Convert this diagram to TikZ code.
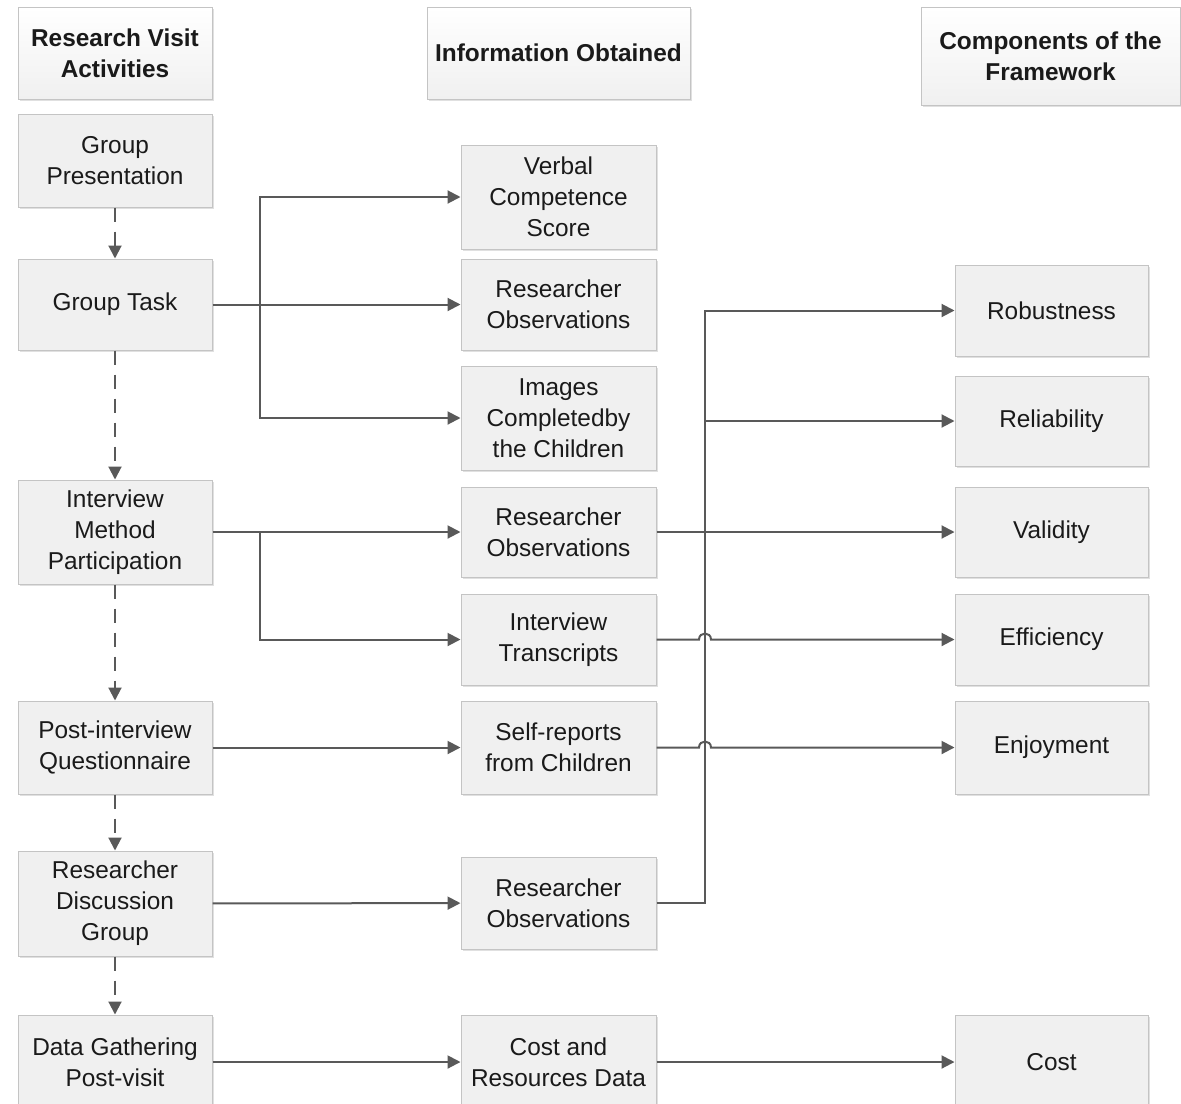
\documentclass[tikz,border=0pt]{standalone}
\usepackage{fontspec}
\setmainfont{Liberation Sans}
\usetikzlibrary{arrows.meta, shadows}
\definecolor{boxFill}{HTML}{F0F0F0}
\definecolor{boxLine}{HTML}{C4C4C4}
\definecolor{wireGray}{HTML}{595959}
\definecolor{inkBlack}{HTML}{1A1A1A}

\begin{document}
\begin{tikzpicture}[x=0.5pt, y=-0.5pt,
    every node/.style={font=\fontsize{12.2}{15.5}\selectfont, text=inkBlack},
    card/.style={draw=boxLine, fill=boxFill, line width=0.5pt, align=center,
                 inner sep=0pt, drop shadow={shadow xshift=0.8pt,
                 shadow yshift=-0.8pt, fill=black, opacity=0.12}},
    stage/.style={card, minimum width=97pt},
    info/.style={card, minimum width=97.5pt},
    comp/.style={card, minimum width=96.5pt},
    head/.style={card, top color=white, bottom color=boxFill,
                 font=\fontsize{12.2}{15.5}\selectfont\bfseries},
    flow/.style={draw=wireGray, line width=1pt, dash pattern=on 7pt off 5pt,
                 -{Triangle[length=6.5pt, width=6.5pt]}},
    link/.style={draw=wireGray, line width=1pt,
                 -{Triangle[length=6.5pt, width=6.5pt]}},
  ]
  \useasboundingbox (0,0) rectangle (1181,1103);
  \clip (0,0) rectangle (1181,1103);

  \node[head, minimum width=97pt, minimum height=46pt]    (hAct)  at (115,53)    {Research Visit\\Activities};
  \node[head, minimum width=131.5pt, minimum height=46pt] (hInfo) at (558.5,53)  {Information Obtained};
  \node[head, minimum width=129.5pt, minimum height=49pt] (hComp) at (1050.5,56) {Components of the\\Framework};

  \node[stage, minimum height=46.5pt] (pres)  at (115,160.5) {Group\\Presentation};
  \node[stage, minimum height=45.5pt] (task)  at (115,304.5) {Group Task};
  \node[stage, minimum height=52pt]   (intv)  at (115,532)   {Interview\\Method\\Participation};
  \node[stage, minimum height=46.5pt] (quest) at (115,747.5) {Post-interview\\Questionnaire};
  \node[stage, minimum height=52.5pt] (disc)  at (115,903.5) {Researcher\\Discussion\\Group};
  \node[stage, minimum height=47pt]   (gath)  at (115,1062)  {Data Gathering\\Post-visit};

  \node[info, minimum height=52pt]   (verbal)   at (558.5,197)   {Verbal\\Competence\\Score};
  \node[info, minimum height=45.5pt] (obsA)     at (558.5,304.5) {Researcher\\Observations};
  \node[info, minimum height=52pt]   (images)   at (558.5,418)   {Images\\Completedby\\the Children};
  \node[info, minimum height=45pt]   (obsB)     at (558.5,532)   {Researcher\\Observations};
  \node[info, minimum height=45.5pt] (trans)    at (558.5,639.5) {Interview\\Transcripts};
  \node[info, minimum height=46.5pt] (self)     at (558.5,747.5) {Self-reports\\from Children};
  \node[info, minimum height=46pt]   (obsC)     at (558.5,903)   {Researcher\\Observations};
  \node[info, minimum height=47pt]   (costData) at (558.5,1062)  {Cost and\\Resources Data};

  \node[comp, minimum height=45.5pt] (robust) at (1051.5,310.5) {Robustness};
  \node[comp, minimum height=45pt]   (reliab) at (1051.5,421)   {Reliability};
  \node[comp, minimum height=45pt]   (valid)  at (1051.5,532)   {Validity};
  \node[comp, minimum height=45.5pt] (effic)  at (1051.5,639.5) {Efficiency};
  \node[comp, minimum height=46.5pt] (enjoy)  at (1051.5,747.5) {Enjoyment};
  \node[comp, minimum height=47pt]   (cost)   at (1051.5,1062)  {Cost};

  \draw[flow] (pres) -- (task);
  \draw[flow] (task) -- (intv);
  \draw[flow] (intv) -- (quest);
  \draw[flow] (quest) -- (disc);
  \draw[flow] (disc) -- (gath);

  \coordinate (forkA) at (260,304.5);
  \coordinate (forkB) at (260,532);
  \coordinate (bus)   at (705,903);

  \draw[link] (task) -- (obsA);
  \draw[link] (forkA) |- (verbal);
  \draw[link] (forkA) |- (images);
  \draw[link] (intv) -- (obsB);
  \draw[link] (forkB) |- (trans);
  \draw[link] (quest) -- (self);
  \draw[link] (disc) -- (obsC);
  \draw[link] (gath) -- (costData);

  \draw[link] (obsC) -- (bus) |- (robust);
  \draw[link] (bus |- reliab) -- (reliab);
  \draw[link] (obsB) -- (valid);
  \draw[link] (trans) -- ([xshift=-3pt]bus |- trans)
    .. controls +(0,4pt) and +(0,4pt) .. ([xshift=3pt]bus |- trans) -- (effic);
  \draw[link] (self) -- ([xshift=-3pt]bus |- self)
    .. controls +(0,4pt) and +(0,4pt) .. ([xshift=3pt]bus |- self) -- (enjoy);
  \draw[link] (costData) -- (cost);
\end{tikzpicture}
\end{document}
